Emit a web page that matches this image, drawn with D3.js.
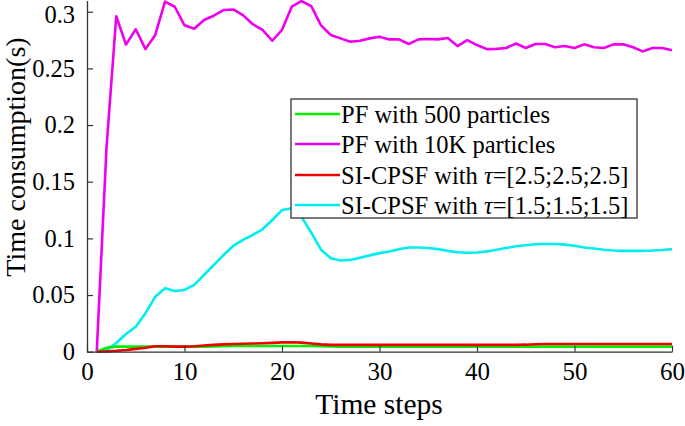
<!DOCTYPE html>
<html>
<head>
<meta charset="utf-8">
<script src="https://cdn.jsdelivr.net/npm/d3@7/dist/d3.min.js"></script>
<style>
  html, body { margin: 0; padding: 0; background: #fff; }
  svg { display: block; }
  svg text { font-family: "Liberation Serif", Tinos, "Times New Roman", "Nimbus Roman", "DejaVu Serif", serif !important; fill: #000; }
</style>
</head>
<body>
<svg id="chart" width="685" height="426"></svg>
<script>
// ---- data ----
const steps = [1,2,3,4,5,6,7,8,9,10,11,12,13,14,15,16,17,18,19,20,
               21,22,23,24,25,26,27,28,29,30,31,32,33,34,35,36,37,38,39,40,
               41,42,43,44,45,46,47,48,49,50,51,52,53,54,55,56,57,58,59,60];

const pf500 = [0,0.0035,0.0045,0.0045,0.0045,0.0045,0.0045,0.0045,0.0045,0.0045,
               0.0045,0.0045,0.0046,0.0048,0.005,0.005,0.005,0.005,0.005,0.005,
               0.005,0.005,0.005,0.0048,0.0046,0.0045,0.0045,0.0045,0.0045,0.0045,
               0.0045,0.0045,0.0045,0.0045,0.0045,0.0045,0.0045,0.0045,0.0045,0.0045,
               0.0045,0.0045,0.0045,0.0045,0.0045,0.0045,0.0045,0.0045,0.0045,0.0045,
               0.0045,0.0045,0.0045,0.0045,0.0045,0.0045,0.0045,0.0045,0.0045,0.0045];

const pf10k = [0,0.18,0.296,0.271,0.2845,0.267,0.2795,0.309,0.3044,0.288,
               0.285,0.2927,0.2965,0.3015,0.302,0.297,0.289,0.284,0.2744,0.284,
               0.3044,0.3094,0.305,0.288,0.2795,0.2765,0.2735,0.2744,0.2765,0.278,
               0.2756,0.2756,0.2715,0.2756,0.276,0.2756,0.2768,0.2697,0.275,0.2706,
               0.267,0.2672,0.268,0.272,0.268,0.2715,0.2715,0.2686,0.2697,0.268,
               0.2712,0.2686,0.268,0.2712,0.2712,0.2686,0.265,0.268,0.268,0.266];

const cpsf25 = [0,0.0003,0.0008,0.0015,0.0025,0.0035,0.0048,0.0048,0.0045,0.0045,
                0.0048,0.0055,0.006,0.0065,0.0068,0.007,0.0072,0.0075,0.0078,0.0082,
                0.0083,0.008,0.0072,0.0065,0.006,0.006,0.006,0.006,0.006,0.006,
                0.006,0.006,0.006,0.006,0.006,0.006,0.006,0.006,0.006,0.006,
                0.006,0.006,0.006,0.006,0.0062,0.0066,0.0068,0.0068,0.0068,0.0068,
                0.0068,0.0068,0.0068,0.0068,0.0068,0.0068,0.0068,0.0068,0.0068,0.0068];

const cpsf15 = [0,0.0015,0.0077,0.0156,0.022,0.034,0.0485,0.056,0.0535,0.0545,
                0.059,0.0677,0.0765,0.0853,0.0933,0.0986,0.103,0.108,0.1162,0.125,
                0.1265,0.119,0.105,0.09,0.0825,0.0805,0.081,0.083,0.085,0.087,
                0.0885,0.0905,0.092,0.092,0.0915,0.0905,0.089,0.0878,0.0873,0.0875,
                0.0885,0.09,0.0915,0.093,0.094,0.0948,0.095,0.095,0.0945,0.0935,
                0.092,0.091,0.09,0.0893,0.089,0.089,0.089,0.0893,0.0898,0.0905];

const seriesNames = ["PF with 500 particles", "PF with 10K particles",
                     "SI-CPSF with \u03C4=[2.5;2.5;2.5]", "SI-CPSF with \u03C4=[1.5;1.5;1.5]"];
const seriesColors = ["#00ee00", "#ee00ee", "#ee0000", "#00eeee"];
const xTicks = [0,10,20,30,40,50,60];
const yTicks = [0,0.05,0.1,0.15,0.2,0.25,0.3];
const xTitle = "Time steps";
const yTitle = "Time consumption(s)";

// ---- chart ----
const FONT = '"Liberation Serif", Tinos, "Times New Roman", "Nimbus Roman", "DejaVu Serif", serif';
const svg = d3.select("#chart").attr("font-family", FONT);
const x = d3.scaleLinear().domain([0, 60]).range([87, 672]);
const y = d3.scaleLinear().domain([0, 0.31]).range([351.7, 0.4]);
const axisColor = "#333";

const series = [pf500, pf10k, cpsf25, cpsf15];
const order = [1, 3, 0, 2]; // draw order
const line = d3.line().x((d, i) => x(steps[i])).y(d => y(d));

const gLines = svg.append("g");
order.forEach(k => {
  gLines.append("path")
    .datum(series[k])
    .attr("d", line)
    .attr("fill", "none")
    .attr("stroke", seriesColors[k])
    .attr("stroke-width", 2.6)
    .attr("stroke-linejoin", "round");
});

// axes
const xAxis = d3.axisBottom(x).tickValues(xTicks).tickSize(-6).tickSizeOuter(0).tickPadding(11)
  .tickFormat(d3.format("d"));
const gx = svg.append("g").attr("transform", `translate(0,${y(0)})`).call(xAxis)
  .attr("font-family", FONT).attr("font-size", 25);
gx.select(".domain").attr("stroke", axisColor).attr("stroke-width", 1.3);
gx.selectAll(".tick line").attr("stroke", axisColor).attr("stroke-width", 1.2);
gx.selectAll("text").attr("fill", "#000");

const yAxis = d3.axisLeft(y).tickValues(yTicks).tickSize(-6).tickSizeOuter(0).tickPadding(12)
  .tickFormat(d => d === 0 ? "0" : String(+d.toFixed(2)));
const gy = svg.append("g").attr("transform", `translate(${x(0)},0)`).call(yAxis)
  .attr("font-family", FONT).attr("font-size", 24.5);
gy.select(".domain").attr("stroke", axisColor).attr("stroke-width", 1.3);
gy.selectAll(".tick line").attr("stroke", axisColor).attr("stroke-width", 1.2);
gy.selectAll("text").attr("fill", "#000");
// keep the top label fully inside the picture
gy.selectAll(".tick").filter(d => d === 0.3).select("text").attr("dy", "0.43em");

// titles
svg.append("text").attr("x", 379).attr("y", 414).attr("text-anchor", "middle")
  .attr("font-size", 29.5).text(xTitle);
svg.append("text").attr("transform", "translate(25,157) rotate(-90)").attr("text-anchor", "middle")
  .attr("font-size", 28).text(yTitle);

// legend
const legX = 291, legY = 99, legW = 346, legH = 119;
const leg = svg.append("g");
leg.append("rect").attr("x", legX).attr("y", legY).attr("width", legW).attr("height", legH)
  .attr("fill", "#fff").attr("stroke", axisColor).attr("stroke-width", 1.3);
const rowY = [114, 144, 175, 205];
seriesNames.forEach((name, k) => {
  leg.append("line").attr("x1", legX + 4).attr("x2", legX + 49)
    .attr("y1", rowY[k]).attr("y2", rowY[k])
    .attr("stroke", seriesColors[k]).attr("stroke-width", 2.6);
  const t = leg.append("text").attr("x", legX + 50).attr("y", rowY[k] + 8.5).attr("font-size", 24.5);
  if (name.indexOf("\u03C4") >= 0) {
    const parts = name.split("\u03C4");
    t.append("tspan").text(parts[0]);
    t.append("tspan").attr("font-style", "italic").text("\u03C4");
    t.append("tspan").text(parts[1]);
  } else {
    t.text(name);
  }
});
</script>
</body>
</html>
